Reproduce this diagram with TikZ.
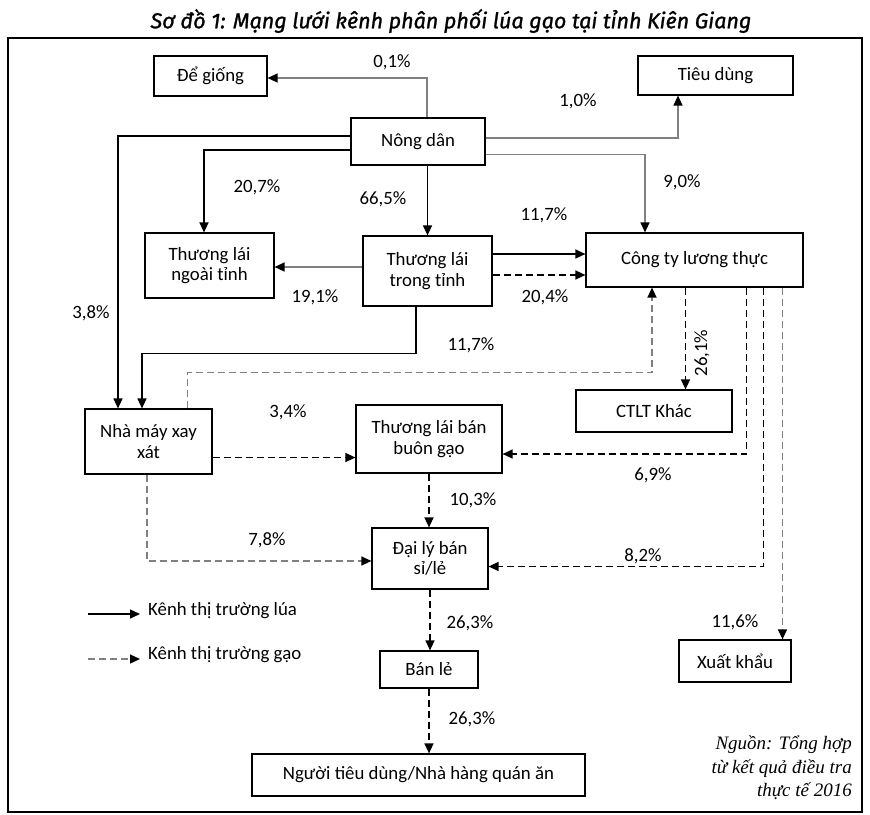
\documentclass[tikz,border=0pt]{standalone}
\usepackage{fontspec}
\setmainfont{Carlito}
\newfontfamily\titlefont[FakeBold=1.2]{Fira Sans}
\newfontfamily\sourcefont{Liberation Serif}
\usetikzlibrary{arrows.meta, positioning, calc}
\newcommand{\titletext}{Sơ đồ 1: Mạng lưới kênh phân phối lúa gạo tại tỉnh Kiên Giang}
\newcommand{\ngoaitext}{Thương lái\\ngoài tỉnh}
\newcommand{\trongtext}{Thương lái\\trong tỉnh}
\newcommand{\nhamaytext}{Nhà máy xay\\xát}
\newcommand{\buontext}{Thương lái bán\\buôn gạo}
\newcommand{\dailytext}{Đại lý bán\\sỉ/lẻ}
\newcommand{\sourcetext}{Nguồn: Tổng hợp\\từ kết quả điều tra\\thực tế 2016}

\begin{document}
\begin{tikzpicture}[x=1pt, y=-1pt,
  font=\fontsize{18.8}{20.5}\selectfont,
  box/.style={draw, line width=1.2pt, inner sep=0pt, align=center},
  pct/.style={inner sep=0pt},
  tip/.style={-{Triangle[length=10pt, width=9pt, color=black]}},
  lua/.style={tip, line width=1.3pt, black},
  gray lua/.style={tip, line width=1.3pt, black!50},
  gao/.style={tip, line width=1.3pt, black, dash pattern=on 7pt off 4pt},
  gray gao/.style={tip, line width=1.3pt, black!50, dash pattern=on 7pt off 4pt}]
  \useasboundingbox (0,0) rectangle (870,814);
  %Title and frame
  \draw (451,21) node[inner sep=0pt, font=\titlefont\itshape\fontsize{21.5}{24}\selectfont] (title) {\titletext};
  \draw[line width=1.2pt] (8,38) rectangle (862,812);

  %Boxes of the channel
  \draw (210.5,76) node[box, minimum width=113, minimum height=40] (dg) {Để giống};
  \draw (715.5,75.5) node[box, minimum width=155, minimum height=39] (td) {Tiêu dùng};
  \draw (418,141.5) node[box, minimum width=134, minimum height=47] (nd) {Nông dân};
  \draw (209.5,265.5) node[box, minimum width=129, minimum height=65] (tn) {\ngoaitext};
  \draw (427.5,271) node[box, minimum width=129, minimum height=70] (tt) {\trongtext};
  \draw (694.5,260) node[box, minimum width=217, minimum height=54] (ct) {Công ty lương thực};
  \draw (654,411) node[box, minimum width=156, minimum height=42] (ck) {CTLT Khác};
  \draw (148.5,441.5) node[box, minimum width=127, minimum height=65] (nm) {\nhamaytext};
  \draw (429,439) node[box, minimum width=146, minimum height=68] (bb) {\buontext};
  \draw (430,558.5) node[box, minimum width=116, minimum height=61] (dl) {\dailytext};
  \draw (429,669.5) node[box, minimum width=98, minimum height=37] (bl) {Bán lẻ};
  \draw (418.5,775) node[box, minimum width=333, minimum height=42] (ng) {Người tiêu dùng/Nhà hàng quán ăn};
  \draw (735,661) node[box, minimum width=112, minimum height=42] (xk) {Xuất khẩu};

  %Rice (lua) channel
  \draw[gray lua] ([xshift=9]nd.north) |- ([yshift=-2]dg.east);
  \draw[gray lua] ([yshift=3.5]nd.east) -| ([xshift=-37.5]td.south);
  \draw[gray lua] ([yshift=-13]nd.east) -| ([xshift=-49.5]ct.north);
  \draw[lua] ([yshift=5.5]nd.west) -| ([xshift=-30.5]nm.north);
  \draw[lua] ([yshift=-8.5]nd.west) -| ([xshift=-5.5]tn.north);
  \draw[lua] (tt.north |- nd.south) -- (tt.north);
  \draw[gray lua] ([yshift=4]tt.west) -- ([yshift=4]tt.west -| tn.east);
  \draw[lua] ([yshift=6]ct.west -| tt.east) -- ([yshift=6]ct.west);
  \draw[lua] ([xshift=-11.5]tt.south) -- ++(0,47) -| ([xshift=-6.5]nm.north);

  %Rice (gao) channel
  \draw[gao] ([yshift=-15]ct.west -| tt.east) -- ([yshift=-15]ct.west);
  \draw[gray gao] ([xshift=39]nm.north) -- ++(0,-36) -| ([xshift=-42.5]ct.south);
  \draw[gao] ([yshift=-16]nm.east) -- ([yshift=-16]nm.east -| bb.west);
  \draw[gray gao] ([xshift=-1.5]nm.south) |- ([yshift=-2.5]dl.west);
  \draw[gao] ([xshift=-9]ct.south) -- ([xshift=-9]ct.south |- ck.north);
  \draw[gao] ([xshift=52]ct.south) |- ([yshift=-15]bb.east);
  \draw[gao] ([xshift=69]ct.south) |- ([yshift=-8]dl.east);
  \draw[gray gao] ([xshift=88]ct.south) -- ([xshift=88]ct.south |- xk.north);
  \draw[gao] (bb.south) -- (bb.south |- dl.north);
  \draw[gao] (dl.south) -- (dl.south |- bl.north);
  \draw[gao] (bl.south) -- (bl.south |- ng.north);

  %Shares
  \draw (392,62) node[pct] (p1) {0,1\%};
  \draw (578,101) node[pct] (p2) {1,0\%};
  \draw (682,182) node[pct] (p3) {9,0\%};
  \draw (257,187) node[pct] (p4) {20,7\%};
  \draw (383,199) node[pct] (p5) {66,5\%};
  \draw (544,215) node[pct] (p6) {11,7\%};
  \draw (315,297) node[pct] (p7) {19,1\%};
  \draw (545,297) node[pct] (p8) {20,4\%};
  \draw (91,313) node[pct] (p9) {3,8\%};
  \draw (471,345) node[pct] (p10) {11,7\%};
  \draw (702,353) node[pct, rotate=90] (p11) {26,1\%};
  \draw (288,412) node[pct] (p12) {3,4\%};
  \draw (653,475) node[pct] (p13) {6,9\%};
  \draw (473,500) node[pct] (p14) {10,3\%};
  \draw (267,540) node[pct] (p15) {7,8\%};
  \draw (643,556) node[pct] (p16) {8,2\%};
  \draw (735,622) node[pct] (p17) {11,6\%};
  \draw (470,623) node[pct] (p18) {26,3\%};
  \draw (472,719) node[pct] (p19) {26,3\%};

  %Legend
  \coordinate (k1) at (88,614);
  \coordinate (k2) at (88,659);
  \draw (148,611) node[pct, anchor=west] (kl) {Kênh thị trường lúa};
  \draw (148,655) node[pct, anchor=west] (kg) {Kênh thị trường gạo};
  \draw[lua] (k1) -- ([xshift=-8]k1 -| kl.west);
  \draw[gray gao] (k2) -- ([xshift=-8]k2 -| kg.west);

  %Source
  \draw (852,768) node[inner sep=0pt, anchor=east, align=right, font=\sourcefont\itshape\fontsize{19}{23.5}\selectfont] (src) {\sourcetext};
\end{tikzpicture}
\end{document}
